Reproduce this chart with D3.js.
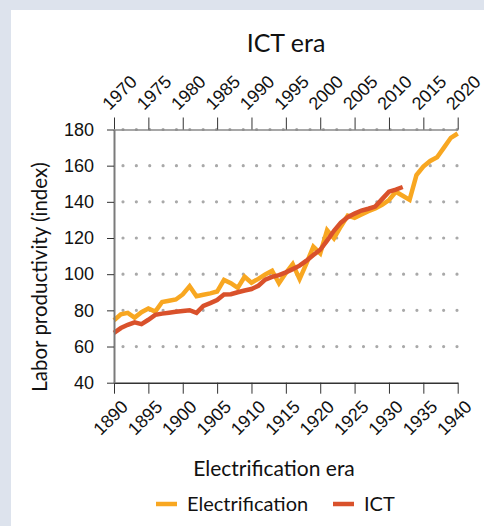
<!DOCTYPE html>
<html>
<head>
<meta charset="utf-8">
<script src="https://cdn.jsdelivr.net/npm/d3@7"></script>
<style>
  html, body { margin: 0; padding: 0; background: #dde3ed; }
  svg { display: block; font-family: Lato, "Noto Sans", sans-serif; }
</style>
</head>
<body>
<svg id="chart" width="484" height="526"></svg>
<script>
// Labor productivity index, electrification era (1890-1940) vs ICT era (1970-2020)
const electrificationYears = d3.range(1890, 1941);
const electrificationValues = [
  74.5, 77.8, 78.6, 76.0, 79.0, 81.0, 79.3, 84.6, 85.3, 86.0,
  88.8, 93.4, 87.8, 88.6, 89.4, 90.4, 96.8, 95.0, 92.4, 98.6,
  95.3, 97.4, 99.8, 101.9, 95.0, 100.6, 105.6, 97.3, 106.0, 115.2,
  111.5, 124.3, 119.8, 126.4, 132.4, 131.2, 133.0, 134.8, 136.4, 138.4,
  141.0, 145.6, 143.4, 141.1, 154.8, 159.5, 162.6, 164.6, 170.0, 175.4,
  177.8
];

const ictYears = d3.range(1970, 2013);
const ictValues = [
  67.6, 70.2, 72.0, 73.4, 72.4, 74.8, 77.5, 78.2, 78.7, 79.2,
  79.7, 80.1, 78.6, 82.5, 84.0, 85.7, 88.8, 88.9, 90.0, 91.0,
  91.8, 93.6, 97.0, 98.5, 99.5, 101.0, 102.8, 104.7, 107.5, 110.6,
  113.5, 118.5, 124.0, 128.5, 131.5, 133.5, 135.2, 136.2, 137.4, 141.5,
  145.6, 146.8, 148.2
];

const bottomTicks = d3.range(1890, 1941, 5);
const topTicks = d3.range(1970, 2021, 5);
const yTicks = [40, 60, 80, 100, 120, 140, 160, 180];
const gridValues = [60, 80, 100, 120, 140, 160, 180];

const seriesNames = ["Electrification", "ICT"];
const seriesColors = ["#f8a721", "#d9512b"];

const svg = d3.select("#chart");
const W = 484, H = 526;

// white panel
svg.append("rect").attr("x", 11).attr("y", 10).attr("width", W - 11).attr("height", H - 10).attr("fill", "#ffffff");

const plotLeft = 114, plotRight = 457.7, plotTop = 129.5, plotBottom = 382.7;
const xBottom = d3.scaleLinear().domain([1890, 1940]).range([plotLeft, plotRight]);
const xTop = d3.scaleLinear().domain([1970, 2020]).range([plotLeft, plotRight]);
const y = d3.scaleLinear().domain([40, 180]).range([plotBottom, plotTop]);

// dotted gridlines
svg.append("g").selectAll("line").data(gridValues).join("line")
  .attr("x1", 123).attr("x2", plotRight + 1)
  .attr("y1", d => y(d)).attr("y2", d => y(d))
  .attr("stroke", "#a9a9a9").attr("stroke-width", 3.2)
  .attr("stroke-linecap", "round").attr("stroke-dasharray", "0 13.36");

// series lines
const line = (xs) => d3.line().x(d => xs(d[0])).y(d => y(d[1]));
const elecData = electrificationYears.map((yr, i) => [yr, electrificationValues[i]]);
const ictData = ictYears.map((yr, i) => [yr, ictValues[i]]);

svg.append("path").datum(elecData)
  .attr("d", line(xBottom)).attr("fill", "none")
  .attr("stroke", seriesColors[0]).attr("stroke-width", 4.5).attr("stroke-linejoin", "miter");
svg.append("path").datum(ictData)
  .attr("d", line(xTop)).attr("fill", "none")
  .attr("stroke", seriesColors[1]).attr("stroke-width", 4.5).attr("stroke-linejoin", "miter");

// axes
const fontSize = 18;
const gx = svg.append("g").attr("transform", `translate(0,${plotBottom})`)
  .call(d3.axisBottom(xBottom).tickValues(bottomTicks).tickSize(11).tickSizeOuter(0).tickFormat(d3.format("d")));
gx.select(".domain").attr("stroke", "#333").attr("stroke-width", 1.5);
gx.selectAll(".tick line").attr("stroke", "#333");
gx.selectAll(".tick text")
  .attr("font-size", fontSize).attr("fill", "#111")
  .attr("text-anchor", "middle").attr("dy", "0.35em")
  .attr("y", 0)
  .attr("transform", "translate(-4,35) rotate(-45)");

const gt = svg.append("g").attr("transform", `translate(0,${plotTop})`)
  .call(d3.axisTop(xTop).tickValues(topTicks).tickSize(12).tickSizeOuter(0).tickFormat(d3.format("d")));
gt.select(".domain").attr("stroke", "#8a8a8a").attr("stroke-width", 1.5);
gt.selectAll(".tick line").attr("stroke", "#333");
gt.selectAll(".tick text")
  .attr("font-size", fontSize).attr("fill", "#111")
  .attr("text-anchor", "middle").attr("dy", "0.35em")
  .attr("y", 0)
  .attr("transform", "translate(5,-37) rotate(-45)");

const gy = svg.append("g").attr("transform", `translate(${plotLeft},0)`)
  .call(d3.axisLeft(y).tickValues(yTicks).tickSize(7).tickSizeOuter(0).tickPadding(13));
gy.select(".domain").attr("stroke", "#7a7a7a").attr("stroke-width", 2);
gy.selectAll(".tick line").attr("stroke", "#333");
gy.selectAll(".tick text").attr("font-size", fontSize).attr("fill", "#111");

// titles
svg.append("text").attr("x", 286).attr("y", 52).attr("text-anchor", "middle")
  .attr("font-size", 25).attr("fill", "#111").text("ICT era");
svg.append("text").attr("x", 274).attr("y", 476).attr("text-anchor", "middle")
  .attr("font-size", 21).attr("fill", "#111").text("Electrification era");
svg.append("text").attr("transform", "translate(47,277) rotate(-90)").attr("text-anchor", "middle")
  .attr("font-size", 20.5).attr("fill", "#111").text("Labor productivity (index)");

// legend
const legendX = [156, 333];
const lg = svg.append("g").selectAll("g").data(seriesNames).join("g")
  .attr("transform", (d, i) => `translate(${legendX[i]},504)`);
lg.append("line").attr("x1", 0).attr("x2", 21).attr("y1", 0).attr("y2", 0)
  .attr("stroke", (d, i) => seriesColors[i]).attr("stroke-width", 4.5);
lg.append("text").attr("x", 31).attr("y", 0).attr("dy", "0.35em")
  .attr("font-size", 20).attr("fill", "#111").text(d => d);
</script>
</body>
</html>
